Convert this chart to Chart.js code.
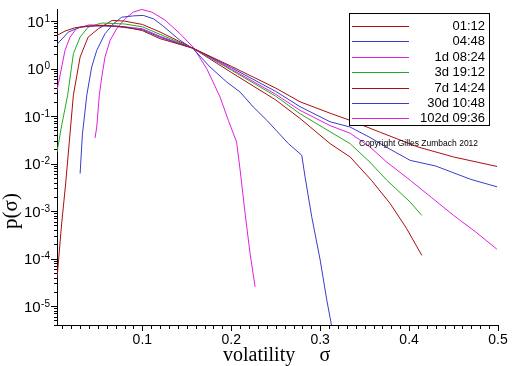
<!DOCTYPE html>
<html><head><meta charset="utf-8">
<script src="https://cdn.jsdelivr.net/npm/chart.js@4/dist/chart.umd.min.js"></script>
<style>html,body{margin:0;padding:0;background:#fff;overflow:hidden}canvas{display:block}</style>
</head><body>
<canvas id="c" width="512" height="366"></canvas>
<script>
// ---- data ----
const seriesNames = ["01:12", "04:48", "1d 08:24", "3d 19:12", "7d 14:24", "30d 10:48", "102d 09:36"];

const sigma_0112 = [0.004, 0.013, 0.024, 0.039, 0.058, 0.08, 0.1, 0.12, 0.157, 0.2, 0.25, 0.2774, 0.3112, 0.3337, 0.3675, 0.41, 0.45, 0.499];
const p_0112     = [5.01, 6.17, 7.24, 7.85, 8.13, 7.59, 6.31, 4.27, 2.69, 1.12, 0.389, 0.2, 0.115, 0.0813, 0.0457, 0.0224, 0.0138, 0.0087];

const sigma_0448 = [0.004, 0.0168, 0.03, 0.047, 0.069, 0.1, 0.12, 0.157, 0.2, 0.25, 0.2774, 0.3112, 0.3337, 0.356, 0.375, 0.4012, 0.43, 0.469, 0.499];
const p_0448     = [3.24, 5.89, 7.48, 7.94, 7.76, 6.61, 4.57, 2.69, 1.05, 0.331, 0.158, 0.0759, 0.0589, 0.0355, 0.0219, 0.0117, 0.0089, 0.00468, 0.00324];

const sigma_1d = [0.004, 0.013, 0.0187, 0.026, 0.04, 0.06, 0.08, 0.1, 0.12, 0.157, 0.2, 0.25, 0.2774, 0.3112, 0.3337, 0.356, 0.375, 0.4012, 0.425, 0.45, 0.475, 0.4987];
const p_1d     = [0.347, 2.42, 4.61, 7.02, 8.32, 8.13, 7.59, 6.92, 4.79, 2.69, 0.977, 0.288, 0.132, 0.0631, 0.0437, 0.0224, 0.0107, 0.00447, 0.00195, 0.000813, 0.000363, 0.000158];

const sigma_3d = [0.004, 0.0093, 0.016, 0.0224, 0.03, 0.039, 0.0543, 0.08, 0.1, 0.12, 0.157, 0.2, 0.25, 0.2774, 0.3112, 0.3337, 0.356, 0.375, 0.4012, 0.4143];
const p_3d     = [0.0174, 0.0646, 0.275, 2.06, 4.61, 7.48, 9.12, 8.71, 7.59, 5.25, 2.69, 0.933, 0.263, 0.112, 0.0468, 0.0263, 0.0107, 0.00447, 0.00155, 0.000813];

const sigma_7d = [0.004, 0.0093, 0.0136, 0.0175, 0.0224, 0.03, 0.039, 0.0505, 0.066, 0.08, 0.1, 0.12, 0.157, 0.2, 0.25, 0.2774, 0.3112, 0.3337, 0.3576, 0.3786, 0.397, 0.4143];
const p_7d     = [3.8e-5, 5.62e-4, 3.55e-3, 0.0245, 0.275, 1.75, 4.61, 6.92, 10.35, 10.0, 8.51, 5.89, 2.69, 0.832, 0.219, 0.0891, 0.0263, 0.0138, 0.00447, 0.00145, 0.000437, 0.000117];

const sigma_30d = [0.03, 0.0325, 0.0375, 0.043, 0.0487, 0.058, 0.0674, 0.0768, 0.09, 0.101, 0.1125, 0.1225, 0.1424, 0.157, 0.1762, 0.195, 0.2099, 0.2249, 0.24, 0.2642, 0.2793, 0.283, 0.2905, 0.30, 0.3074, 0.3123, 0.316];
const p_30d     = [0.00617, 0.0398, 0.275, 1.08, 2.42, 5.43, 8.81, 12.1, 12.9, 13.2, 11.2, 8.13, 3.93, 2.63, 1.08, 0.521, 0.321, 0.155, 0.0817, 0.0264, 0.015, 0.00525, 0.000759, 9.33e-5, 1.35e-5, 4.37e-6, 1.58e-6];

const sigma_102d = [0.0468, 0.0487, 0.0516, 0.0543, 0.058, 0.0637, 0.0712, 0.0805, 0.0899, 0.0993, 0.1106, 0.1255, 0.1424, 0.157, 0.1724, 0.1874, 0.1967, 0.206, 0.21, 0.2155, 0.2211, 0.2268];
const p_102d     = [0.0347, 0.0589, 0.275, 0.661, 1.75, 3.93, 6.92, 11.2, 15.5, 17.6, 15.5, 10.5, 5.43, 2.84, 1.0, 0.252, 0.0817, 0.0285, 0.00724, 0.000912, 0.00013, 2.55e-5];

const xTickLabels = ["0.1", "0.2", "0.3", "0.4", "0.5"];
const xTickValues = [0.1, 0.2, 0.3, 0.4, 0.5];
const yDecadeExponents = ["-5", "-4", "-3", "-2", "-1", "0", "1"];
const xTitle = "volatility";
const sigmaSymbol = "σ";
const yTitle = "p(σ)";
const copyrightText = "Copyright Gilles Zumbach 2012";

// ---- styling ----
const colors = ["#a80f0f", "#3b3bc8", "#e01ee0", "#22aa22", "#a80f0f", "#3b3bc8", "#e01ee0"];
const sigmaLists = [sigma_0112, sigma_0448, sigma_1d, sigma_3d, sigma_7d, sigma_30d, sigma_102d];
const pLists = [p_0112, p_0448, p_1d, p_3d, p_7d, p_30d, p_102d];

const datasets = seriesNames.map((name, k) => ({
  label: name,
  data: sigmaLists[k].map((s, i) => ({ x: s, y: pLists[k][i] })),
  borderColor: colors[k],
  backgroundColor: colors[k],
  borderWidth: 1,
  pointRadius: 0,
  tension: 0,
  fill: false
}));

const SANS = '"Liberation Sans", Arial, sans-serif';
const SERIF = '"Liberation Serif", "Times New Roman", serif';

const decorPlugin = {
  id: 'decor',
  afterDraw(chart) {
    const ctx = chart.ctx;
    const xs = chart.scales.x, ys = chart.scales.y;
    const ca = chart.chartArea;
    ctx.save();
    ctx.strokeStyle = '#000';
    ctx.fillStyle = '#000';
    ctx.lineWidth = 1;
    // x ticks
    const bottom = Math.round(ca.bottom);
    ctx.beginPath();
    for (let k = 1; k <= 50; k++) {
      const v = k / 100;
      const px = Math.round(xs.getPixelForValue(v)) + 0.5;
      const len = (k % 10 === 0) ? 6 : 4;
      ctx.moveTo(px, bottom);
      ctx.lineTo(px, bottom + len);
    }
    ctx.stroke();
    // y ticks
    const left = Math.round(ca.left);
    ctx.beginPath();
    for (let e = -6; e <= 1; e++) {
      for (let m = 1; m <= 9; m++) {
        const v = m * Math.pow(10, e);
        if (v < ys.min || v > ys.max) continue;
        const py = Math.round(ys.getPixelForValue(v)) + 0.5;
        const len = (m === 1) ? 6 : 3;
        ctx.moveTo(left, py);
        ctx.lineTo(left - len, py);
      }
    }
    ctx.stroke();
    // x labels
    ctx.font = '14px ' + SANS;
    ctx.textAlign = 'center';
    ctx.textBaseline = 'alphabetic';
    xTickValues.forEach((v, i) => {
      ctx.fillText(xTickLabels[i], xs.getPixelForValue(v), 344);
    });
    // y labels 10^n
    yDecadeExponents.forEach(ex => {
      const py = ys.getPixelForValue(Math.pow(10, Number(ex)));
      ctx.textAlign = 'right';
      ctx.font = '10px ' + SANS;
      const w = ctx.measureText(ex).width;
      ctx.fillText(ex, 50, py + 0.5);
      ctx.font = '15px ' + SANS;
      ctx.fillText('10', 50 - w - 0.5, py + 5.5);
    });
    // axis titles
    ctx.font = '20px ' + SERIF;
    ctx.textAlign = 'left';
    ctx.fillText(xTitle, 223, 361);
    ctx.textAlign = 'center';
    ctx.fillText(sigmaSymbol, 325, 361);
    ctx.save();
    ctx.translate(17, 211);
    ctx.rotate(-Math.PI / 2);
    ctx.textAlign = 'center';
    ctx.font = '21px ' + SERIF;
    ctx.fillText(yTitle, 0, 0);
    ctx.restore();
    // legend
    const bx = 349.5, by = 13.5, bw = 140, bh = 112;
    ctx.fillStyle = '#fff';
    ctx.fillRect(bx, by, bw, bh);
    ctx.strokeStyle = '#000';
    ctx.strokeRect(bx, by, bw, bh);
    ctx.font = '13px ' + SANS;
    ctx.textAlign = 'right';
    ctx.textBaseline = 'middle';
    seriesNames.forEach((name, k) => {
      const yy = Math.round(26 + k * 15.4) + 0.5;
      ctx.strokeStyle = colors[k];
      ctx.beginPath();
      ctx.moveTo(352, yy);
      ctx.lineTo(409, yy);
      ctx.stroke();
      ctx.fillStyle = '#000';
      ctx.fillText(name, 485, yy);
    });
    // copyright
    ctx.font = '8.5px ' + SANS;
    ctx.textAlign = 'left';
    ctx.fillText(copyrightText, 359, 144);
    ctx.restore();
  }
};

new Chart(document.getElementById('c'), {
  type: 'line',
  data: { datasets },
  options: {
    responsive: false,
    animation: false,
    devicePixelRatio: 1,
    layout: { padding: { left: 57, right: 14, top: 9, bottom: 41 } },
    plugins: { legend: { display: false }, tooltip: { enabled: false } },
    scales: {
      x: {
        type: 'linear', min: 0.004, max: 0.5,
        grid: { display: false, drawTicks: false },
        border: { display: true, color: '#000', width: 1 },
        ticks: { display: false }
      },
      y: {
        type: 'logarithmic', min: 4e-6, max: 18,
        grid: { display: false, drawTicks: false },
        border: { display: true, color: '#000', width: 1 },
        ticks: { display: false }
      }
    }
  },
  plugins: [decorPlugin]
});
</script>
</body></html>
